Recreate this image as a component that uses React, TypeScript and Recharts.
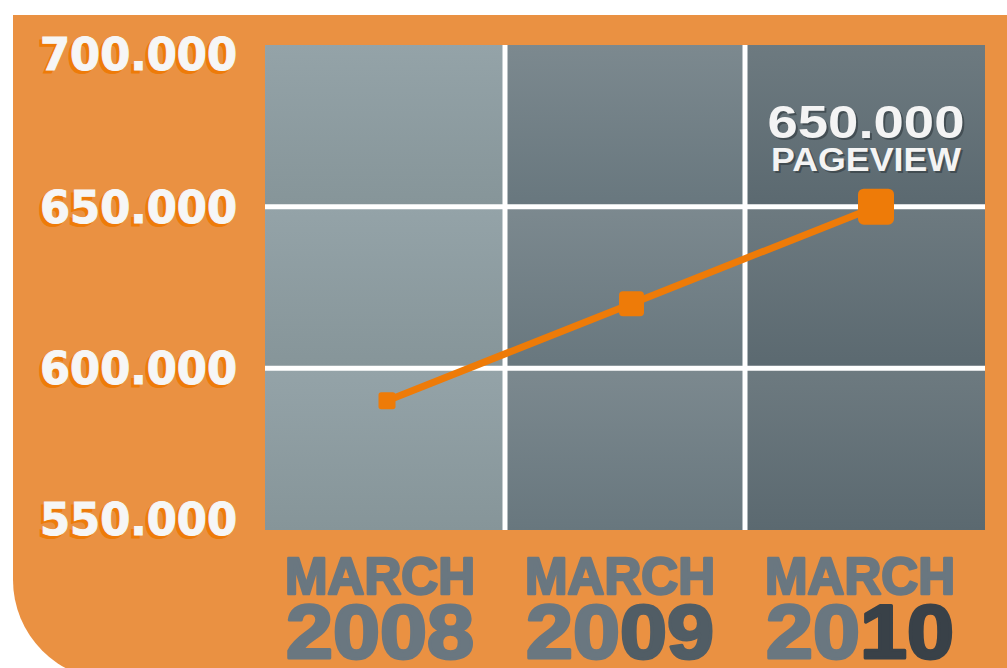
import React from 'react';
import { LineChart, Line, XAxis, YAxis, ReferenceArea, ReferenceLine } from 'recharts';

// ---- data ----
const years = ['2008', '2009', '2010'];
const monthLabel = 'MARCH';
const pageviews = [590000, 620000, 650000];
const yTicks = [550000, 600000, 650000, 700000];
const calloutUnit = 'PAGEVIEW';

const data = years.map((year, i) => ({ year, pageviews: pageviews[i] }));
const yMin = yTicks[0];
const yMax = yTicks[yTicks.length - 1];

const fmt = (v: number) => String(v).replace(/\B(?=(\d{3})+(?!\d))/g, '.');

// ---- styles ----
const PANEL = '#ea9142';
const LINE = '#ee7b08';
const GREY = '#6a7780';
const YEAR_SUFFIX_COLORS = [GREY, '#515d65', '#394148'];
const MARKER_SIZES = [17, 25, 36];
const COL_GRADS = [
  ['#94a3a8', '#869599'],
  ['#7c898f', '#68777e'],
  ['#6d7a80', '#5b6970'],
];
const YFONT = '"DejaVu Sans", Verdana, sans-serif';
const XFONT = '"Liberation Sans", Arial, Helvetica, sans-serif';

const YTick = (props: any) => {
  const { x, y, payload } = props;
  const v = payload.value;
  const nudge = v === yMax ? 9 : v === yMin ? -11 : 0;
  const by = y + nudge + 16;
  const common = {
    textAnchor: 'end' as const,
    fontFamily: YFONT,
    fontWeight: 700,
    fontSize: 45,
    textLength: 197,
    lengthAdjust: 'spacingAndGlyphs' as const,
    strokeWidth: 1,
  };
  return (
    <g>
      <text x={x - 3} y={by + 3} fill={LINE} stroke={LINE} {...common}>{fmt(v)}</text>
      <text x={x} y={by} fill="#f6f6f6" stroke="#f6f6f6" {...common}>{fmt(v)}</text>
    </g>
  );
};

const XTick = (props: any) => {
  const { x, y, payload, index } = props;
  const yr: string = payload.value;
  const i = typeof index === 'number' ? index : years.indexOf(yr);
  const suffix = YEAR_SUFFIX_COLORS[i] || GREY;
  return (
    <g>
      <text
        x={x - 5}
        y={y + 64}
        textAnchor="middle"
        fontFamily={XFONT}
        fontWeight={700}
        fontSize={51}
        fill={GREY}
        stroke={GREY}
        strokeWidth={2.5}
        strokeLinejoin="round"
        textLength={190}
        lengthAdjust="spacingAndGlyphs"
      >
        {monthLabel}
      </text>
      <text
        x={x - 5}
        y={y + 128}
        textAnchor="middle"
        fontFamily={XFONT}
        fontWeight={700}
        fontSize={76}
        strokeWidth={3}
        strokeLinejoin="round"
        textLength={188}
        lengthAdjust="spacingAndGlyphs"
      >
        <tspan fill={GREY} stroke={GREY}>{yr.slice(0, 2)}</tspan>
        <tspan fill={suffix} stroke={suffix}>{yr.slice(2)}</tspan>
      </text>
    </g>
  );
};

const SquareDot = (props: any) => {
  const { cx, cy, index, value } = props;
  const s = MARKER_SIZES[index] || 16;
  const isLast = index === data.length - 1;
  const v = Array.isArray(value) ? value[1] : value;
  return (
    <g key={`dot-${index}`}>
      <rect x={cx - s / 2} y={cy - s / 2} width={s} height={s} rx={s * 0.16} fill={LINE} />
      {isLast && (
        <g fontFamily={XFONT} fontWeight={700} textAnchor="middle">
          <text x={cx - 8} y={cy - 67} fontSize={47} fill="#2f383d" opacity={0.6} textLength={197} lengthAdjust="spacingAndGlyphs">{fmt(v)}</text>
          <text x={cx - 10} y={cy - 69} fontSize={47} fill="#f4f4f4" textLength={197} lengthAdjust="spacingAndGlyphs">{fmt(v)}</text>
          <text x={cx - 8} y={cy - 34} fontSize={34} fill="#2f383d" opacity={0.6} textLength={190} lengthAdjust="spacingAndGlyphs">{calloutUnit}</text>
          <text x={cx - 10} y={cy - 36} fontSize={34} fill="#f4f4f4" textLength={190} lengthAdjust="spacingAndGlyphs">{calloutUnit}</text>
        </g>
      )}
    </g>
  );
};

const rowBounds = yTicks.slice(0, -1).map((t, i) => [t, yTicks[i + 1]]);

export default function App() {
  return (
    <div style={{ position: 'absolute', left: 0, top: 0, width: 1007, height: 668, overflow: 'hidden', background: '#ffffff' }}>
      <div
        style={{
          position: 'absolute',
          left: 13,
          top: 15,
          width: 1000,
          height: 665,
          background: PANEL,
          borderBottomLeftRadius: 100,
        }}
      />
      <div style={{ position: 'absolute', left: 0, top: 0 }}>
        <LineChart width={1007} height={668} data={data} margin={{ top: 45, right: 22, bottom: 0, left: 0 }}>
          <defs>
            {COL_GRADS.map((g, i) => (
              <linearGradient key={i} id={`col${i}`} x1="0" y1="0" x2="0" y2="1">
                <stop offset="0%" stopColor={g[0]} />
                <stop offset="100%" stopColor={g[1]} />
              </linearGradient>
            ))}
          </defs>
          <XAxis
            dataKey="year"
            scale="band"
            height={138}
            axisLine={false}
            tickLine={false}
            tickSize={0}
            tickMargin={0}
            tick={<XTick />}
            interval={0}
          />
          <XAxis xAxisId="pts" dataKey="year" hide padding={{ left: 122, right: 109 }} />
          <YAxis
            type="number"
            domain={[yMin, yMax]}
            ticks={yTicks}
            width={265}
            axisLine={false}
            tickLine={false}
            tickSize={0}
            tickMargin={28}
            tick={<YTick />}
            interval={0}
          />
          {years.map((yr, ci) =>
            rowBounds.map(([lo, hi], ri) => (
              <ReferenceArea
                key={`${yr}-${ri}`}
                x1={yr}
                x2={yr}
                y1={lo}
                y2={hi}
                fill={`url(#col${ci})`}
                fillOpacity={1}
                stroke="none"
              />
            ))
          )}
          {yTicks.slice(1, -1).map((t) => (
            <ReferenceLine key={`h${t}`} y={t} stroke="#ffffff" strokeWidth={5} />
          ))}
          {years.slice(1).map((yr) => (
            <ReferenceLine key={`v${yr}`} x={yr} position="start" stroke="#ffffff" strokeWidth={5} />
          ))}
          <Line
            xAxisId="pts"
            type="linear"
            dataKey="pageviews"
            stroke={LINE}
            strokeWidth={7}
            dot={<SquareDot />}
            activeDot={false}
            isAnimationActive={false}
          />
        </LineChart>
      </div>
    </div>
  );
}
